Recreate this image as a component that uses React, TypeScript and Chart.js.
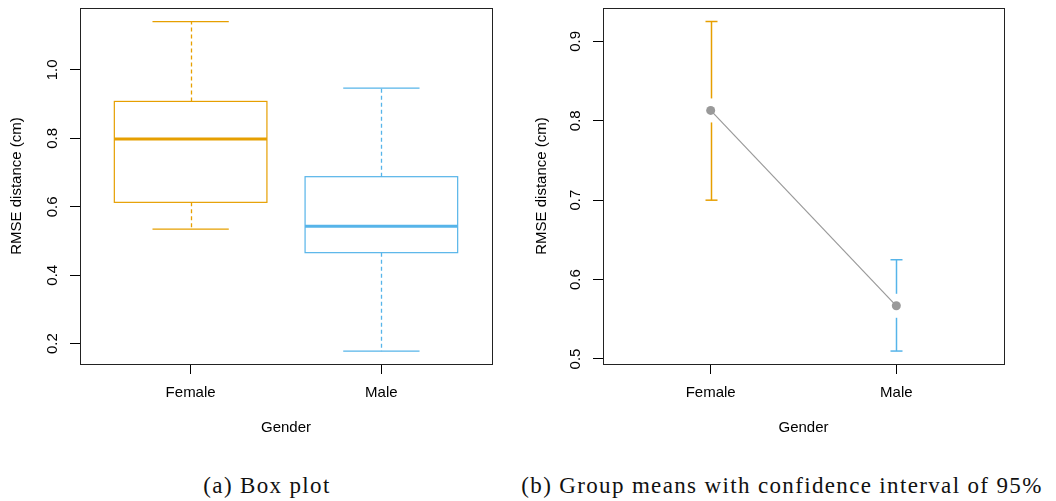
import React, { useEffect, useRef } from "react";
import { Chart, registerables } from "chart.js";

Chart.register(...registerables);

// ---- data ----
const categories = ["Female", "Male"];
const groupColors = ["#E69F00", "#56B4E9"];

// (a) box plot statistics
const whiskerLow = [0.535, 0.178];
const quartile1 = [0.613, 0.466];
const medians = [0.798, 0.543];
const quartile3 = [0.908, 0.688];
const whiskerHigh = [1.141, 0.947];
const boxTicks = [0.2, 0.4, 0.6, 0.8, 1.0];

// (b) group means with 95% CI
const groupMeans = [0.813, 0.567];
const ciLow = [0.7, 0.51];
const ciHigh = [0.925, 0.625];
const meanTicks = [0.5, 0.6, 0.7, 0.8, 0.9];

const axisTitleX = "Gender";
const axisTitleY = "RMSE distance (cm)";
const captionA = "(a) Box plot";
const captionB = "(b) Group means with confidence interval of 95%";

// ---- styling helpers ----
const sansFont = { family: "'Liberation Sans', Arial, Helvetica, sans-serif", size: 15 };

function xScale() {
  return {
    type: "linear",
    min: 0.42,
    max: 2.58,
    afterBuildTicks: (s: any) => {
      s.ticks = categories.map((_, i) => ({ value: i + 1 }));
    },
    afterFit: (s: any) => {
      s.height = 96;
      s.paddingLeft = 0;
      s.paddingRight = 0;
    },
    ticks: {
      callback: (v: any) => categories[Math.round(Number(v)) - 1] ?? "",
      font: sansFont,
      color: "#000",
      padding: 10,
      maxRotation: 0,
      autoSkip: false,
    },
    grid: { display: true, drawOnChartArea: false, drawTicks: true, tickLength: 10, color: "#000", lineWidth: 1 },
    border: { display: false },
    title: { display: true, text: axisTitleX, font: sansFont, color: "#000", padding: { top: 0, bottom: 23 } },
  };
}

function yScale(min: number, max: number, ticks: number[], width: number, titlePad: number) {
  return {
    type: "linear",
    min,
    max,
    afterBuildTicks: (s: any) => {
      s.ticks = ticks.map((v) => ({ value: v }));
    },
    afterFit: (s: any) => {
      s.width = width;
      s.paddingTop = 0;
      s.paddingBottom = 0;
    },
    ticks: {
      callback: (v: any) => Number(v).toFixed(1),
      font: sansFont,
      color: "#000",
      padding: 6.5,
      minRotation: 90,
      maxRotation: 90,
      crossAlign: "center",
      autoSkip: false,
    },
    grid: { display: true, drawOnChartArea: false, drawTicks: true, tickLength: 10, color: "#000", lineWidth: 1 },
    border: { display: false },
    title: { display: true, text: axisTitleY, font: sansFont, color: "#000", padding: { top: titlePad, bottom: 0 } },
  };
}

const framePlugin = {
  id: "frame",
  afterDraw(chart: any) {
    const { ctx, chartArea: a } = chart;
    ctx.save();
    ctx.strokeStyle = "#222";
    ctx.lineWidth = 1;
    ctx.strokeRect(Math.round(a.left) + 0.5, Math.round(a.top) + 0.5, Math.round(a.right - a.left), Math.round(a.bottom - a.top));
    ctx.restore();
  },
};

function seg(ctx: CanvasRenderingContext2D, x1: number, y1: number, x2: number, y2: number) {
  ctx.beginPath();
  ctx.moveTo(x1, y1);
  ctx.lineTo(x2, y2);
  ctx.stroke();
}

const boxPlugin = {
  id: "boxplot",
  beforeDatasetsDraw(chart: any) {
    const { ctx, scales } = chart;
    const x = scales.x;
    const y = scales.y;
    categories.forEach((_, i) => {
      const c = i + 1;
      const cx = Math.round(x.getPixelForValue(c)) + 0.5;
      const left = x.getPixelForValue(c - 0.4);
      const right = x.getPixelForValue(c + 0.4);
      const capL = x.getPixelForValue(c - 0.2);
      const capR = x.getPixelForValue(c + 0.2);
      const yWL = y.getPixelForValue(whiskerLow[i]);
      const yQ1 = y.getPixelForValue(quartile1[i]);
      const yMed = y.getPixelForValue(medians[i]);
      const yQ3 = y.getPixelForValue(quartile3[i]);
      const yWH = y.getPixelForValue(whiskerHigh[i]);
      ctx.save();
      ctx.strokeStyle = groupColors[i];
      ctx.lineWidth = 1.3;
      ctx.setLineDash([4, 3]);
      seg(ctx, cx, yQ3, cx, yWH);
      seg(ctx, cx, yQ1, cx, yWL);
      ctx.setLineDash([]);
      ctx.lineWidth = 1.2;
      seg(ctx, capL, yWH, capR, yWH);
      seg(ctx, capL, yWL, capR, yWL);
      ctx.strokeRect(left, yQ3, right - left, yQ1 - yQ3);
      ctx.lineWidth = 3;
      seg(ctx, left, yMed, right, yMed);
      ctx.restore();
    });
  },
};

const errorBarPlugin = {
  id: "errorbars",
  beforeDatasetsDraw(chart: any) {
    const { ctx, scales } = chart;
    const x = scales.x;
    const y = scales.y;
    const gap = 12;
    const cap = 6;
    categories.forEach((_, i) => {
      const cx = Math.round(x.getPixelForValue(i + 1)) + 0.5;
      const py = y.getPixelForValue(groupMeans[i]);
      const yHi = y.getPixelForValue(ciHigh[i]);
      const yLo = y.getPixelForValue(ciLow[i]);
      ctx.save();
      ctx.strokeStyle = groupColors[i];
      ctx.lineWidth = 1.5;
      seg(ctx, cx, yHi, cx, py - gap);
      seg(ctx, cx, py + gap, cx, yLo);
      seg(ctx, cx - cap, yHi, cx + cap, yHi);
      seg(ctx, cx - cap, yLo, cx + cap, yLo);
      ctx.restore();
    });
  },
};

function BoxPlotChart() {
  const ref = useRef<HTMLCanvasElement | null>(null);
  useEffect(() => {
    if (!ref.current) return;
    const chart = new Chart(ref.current, {
      type: "scatter",
      data: { datasets: [{ data: [], pointRadius: 0 }] },
      options: {
        animation: false,
        responsive: false,
        devicePixelRatio: 1,
        layout: { padding: { top: 8, right: 36, left: 0, bottom: 0 } },
        plugins: { legend: { display: false }, tooltip: { enabled: false } },
        scales: {
          x: xScale() as any,
          y: yScale(0.1406, 1.181, boxTicks, 80, 8) as any,
        },
      },
      plugins: [boxPlugin, framePlugin],
    } as any);
    return () => chart.destroy();
  }, []);
  return <canvas ref={ref} width={528} height={460} />;
}

function MeansChart() {
  const ref = useRef<HTMLCanvasElement | null>(null);
  useEffect(() => {
    if (!ref.current) return;
    const chart = new Chart(ref.current, {
      type: "line",
      data: {
        datasets: [
          {
            data: groupMeans.map((m, i) => ({ x: i + 1, y: m })),
            borderColor: "#9a9a9a",
            borderWidth: 1.2,
            pointRadius: 4.5,
            pointBackgroundColor: "#999999",
            pointBorderWidth: 0,
            tension: 0,
          },
        ],
      },
      options: {
        animation: false,
        responsive: false,
        devicePixelRatio: 1,
        layout: { padding: { top: 8, right: 52, left: 0, bottom: 0 } },
        plugins: { legend: { display: false }, tooltip: { enabled: false } },
        scales: {
          x: xScale() as any,
          y: yScale(0.4937, 0.942, meanTicks, 75, 5) as any,
        },
      },
      plugins: [errorBarPlugin, framePlugin],
    } as any);
    return () => chart.destroy();
  }, []);
  return <canvas ref={ref} width={528} height={460} />;
}

const captionStyle: React.CSSProperties = {
  position: "absolute",
  top: 474,
  width: 528,
  textAlign: "center",
  fontFamily: "'Liberation Serif', 'Times New Roman', serif",
  fontSize: 23,
  lineHeight: "23px",
  letterSpacing: "1.35px",
  color: "#111",
  whiteSpace: "nowrap",
};

export default function App() {
  return (
    <div style={{ position: "fixed", left: 0, top: 0, width: 1056, height: 501, background: "#fff", overflow: "hidden" }}>
      <div style={{ position: "absolute", left: 0, top: 0 }}>
        <BoxPlotChart />
      </div>
      <div style={{ position: "absolute", left: 528, top: 0 }}>
        <MeansChart />
      </div>
      <div style={{ ...captionStyle, left: 3 }}>{captionA}</div>
      <div style={{ ...captionStyle, left: 518 }}>{captionB}</div>
    </div>
  );
}
